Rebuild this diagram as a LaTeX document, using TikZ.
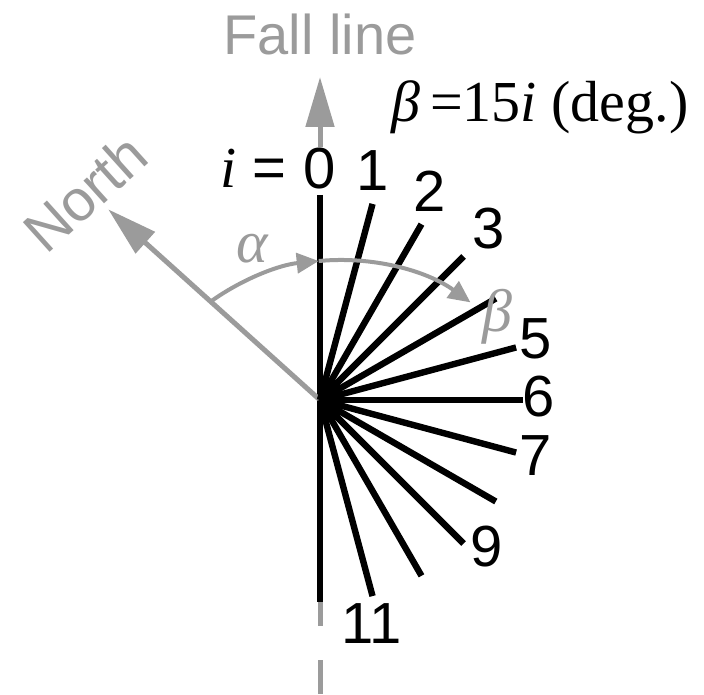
\documentclass[tikz,border=0pt]{standalone}
\usepackage{fontspec}
\setmainfont{Liberation Sans}
\newfontfamily\tnr{Liberation Serif}
\usetikzlibrary{arrows.meta,calc}
\definecolor{lgray}{RGB}{155,155,155}
\begin{document}
\begin{tikzpicture}[x=0.5pt,y=0.5pt,
  ray/.style={line width=3.2pt,black},
  gline/.style={line width=2.5pt,lgray},
  bigtip/.style={-{Triangle[length=25pt,width=14pt]}},
  smalltip/.style={-{Triangle[length=11pt,width=10pt]}},
  lab/.style={font=\fontsize{29}{31}\selectfont,inner sep=0pt},
  serlab/.style={font=\fontsize{29}{31}\selectfont\tnr,inner sep=0pt}]
\useasboundingbox (-320,-294) rectangle (384,400);
\coordinate (O) at (0,0);
% vertical axis
\coordinate (topg) at (0,253);
\coordinate (tip) at (0,323);
\coordinate (bt) at (0,205);
\coordinate (bb) at (0,-202);
\coordinate (g1) at (0,-226);
\coordinate (g2) at (0,-260);
\coordinate (g3) at (0,-294);
\draw[gline,bigtip] (topg) -- (tip);
\draw[gline] (bb) -- (g1);
\draw[gline] (g2) -- (g3);
\draw[ray] (bt) -- (bb);
% north arrow
\coordinate (N) at (138:285);
\draw[gline,bigtip] (O) -- (N);
\node[lab,text=lgray,rotate=42] (northlab) at (-235,207) {North};
% rays
\foreach \i in {1,...,11}{
  \coordinate (r\i) at ({90-15*\i}:203);
  \draw[ray] (O) -- (r\i);
}
\node[lab] (l1) at (53,229) {1};
\node[lab] (l2) at (110,209) {2};
\node[lab] (l3) at (169,171) {3};
\node[lab] (l5) at (216,61) {5};
\node[lab] (l6) at (219,3) {6};
\node[lab] (l7) at (216,-56) {7};
\node[lab] (l9) at (167,-147) {9};
\node[lab] (l11) at (52,-224) {11};
\node[lab] (l0) at (0,231) {0};
\node[lab,anchor=base east] (ieq) at (-33,212) {{\tnr\itshape i} =};
% arcs
\coordinate (C) at (20,-82);
\coordinate (a1) at ($(C)+(125.8:222)$);
\coordinate (a2) at ($(C)+(95.5:222)$);
\draw[lgray,line width=2pt,smalltip] (a1) arc[start angle=125.8,end angle=95.5,radius=111pt];
\draw[lgray,line width=2pt,smalltip] (a2) arc[start angle=95.5,end angle=54,radius=111pt];
\node[serlab,text=lgray,font=\fontsize{30}{32}\selectfont\tnr\itshape] (alab) at (-68,151) {α};
\node[serlab,text=lgray,font=\fontsize{30}{32}\selectfont\tnr\itshape] (blab) at (177,83) {β};
% titles
\node[lab,text=lgray,anchor=base,font=\fontsize{28}{30}\selectfont] (fall) at (0,345) {Fall line};
\node[serlab,anchor=base] (form) at (220,278) {{\itshape β}\,=15{\itshape i} (deg.)};
\end{tikzpicture}
\end{document}
